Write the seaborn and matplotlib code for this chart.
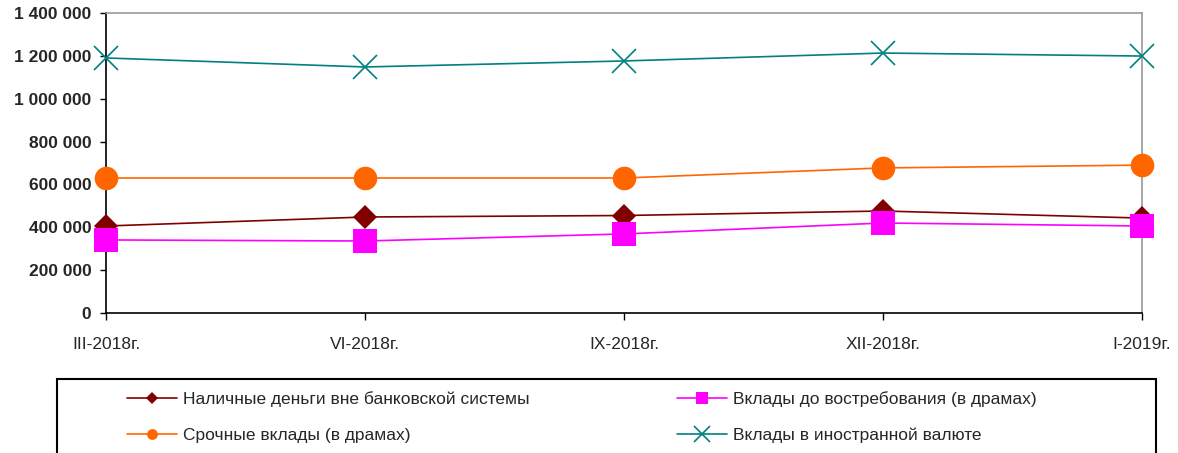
import matplotlib
matplotlib.use("Agg")
import matplotlib.pyplot as plt
import matplotlib.ticker as mticker
from matplotlib.lines import Line2D
from matplotlib.patches import Rectangle
import seaborn as sns
import pandas as pd

periods = ["III-2018г.", "VI-2018г.", "IX-2018г.", "XII-2018г.", "I-2019г."]
cash = [406000, 448000, 455000, 476000, 443000]
demand = [341000, 336000, 369000, 420000, 406000]
term = [630000, 630000, 630000, 677000, 690000]
foreign = [1190000, 1148000, 1176000, 1213000, 1199000]

names = [
    "Наличные деньги вне банковской системы",
    "Вклады до востребования (в драмах)",
    "Срочные вклады (в драмах)",
    "Вклады в иностранной валюте",
]
series = [cash, demand, term, foreign]
# color, marker, size on plot, size in legend, edge width
styles = [
    ("#800000", "D", 12, 5.8, 0),
    ("#FF00FF", "s", 17, 8.4, 0),
    ("#FF6600", "o", 17, 7.8, 0),
    ("#008080", "x", 17, 11, 1.2),
]

sns.set_style("white")
plt.rcParams["font.family"] = ["Liberation Sans", "DejaVu Sans"]

fig = plt.figure(figsize=(11.78, 4.53), dpi=100)
ax = fig.add_axes([0.09, 0.309, 0.8794, 0.6624])

x = list(range(len(periods)))
for name, vals, (col, mk, ms, _, mew) in zip(names, series, styles):
    df = pd.DataFrame({"x": x, "y": vals})
    sns.lineplot(data=df, x="x", y="y", ax=ax, color=col, lw=1.2,
                 marker=mk, markersize=ms, markeredgewidth=mew,
                 markeredgecolor=col, clip_on=False, zorder=3, legend=False)

ax.set_xlim(0, 4)
ax.set_ylim(0, 1400000)
ax.set_xticks(x)
ax.set_xticklabels(periods, fontsize=12.5)
ax.yaxis.set_major_locator(mticker.MultipleLocator(200000))
ax.yaxis.set_major_formatter(mticker.FuncFormatter(lambda v, p: f"{v:,.0f}".replace(",", " ")))
for lab in ax.get_yticklabels():
    lab.set_fontweight("bold")
    lab.set_fontsize(12.5)
ax.set_xlabel("")
ax.set_ylabel("")
ax.tick_params(axis="both", direction="out", width=1, color="black",
               bottom=True, left=True)
ax.tick_params(axis="x", length=5, pad=12.5)
ax.tick_params(axis="y", length=4.5, pad=6)
for s in ["left", "bottom"]:
    ax.spines[s].set_color("black")
    ax.spines[s].set_linewidth(1.2)
for s in ["top", "right"]:
    ax.spines[s].set_color("#999999")
    ax.spines[s].set_linewidth(1.2)

# legend handles, drawn smaller than the plot markers
handles = [Line2D([], [], color=c, lw=1.2, marker=m, markersize=lms,
                  markeredgewidth=mew, markeredgecolor=c)
           for c, m, _, lms, mew in styles]

leg_kw = dict(loc="upper left", fontsize=12.5, frameon=False,
              handlelength=2.9, handletextpad=0.35, borderpad=0.0,
              borderaxespad=0.0, labelspacing=1.2)
leg1 = fig.legend([handles[0], handles[2]], [names[0], names[2]],
                  bbox_to_anchor=(127 / 1178, 1 - 391 / 453), **leg_kw)
leg2 = fig.legend([handles[1], handles[3]], [names[1], names[3]],
                  bbox_to_anchor=(677 / 1178, 1 - 391 / 453), **leg_kw)

box = Rectangle((57 / 1178, -0.05), (1156 - 57) / 1178, 0.05 + 1 - 379 / 453,
                transform=fig.transFigure, fill=False, edgecolor="black", lw=1.5)
fig.patches.append(box)

fig.savefig("out.png", dpi=100)
